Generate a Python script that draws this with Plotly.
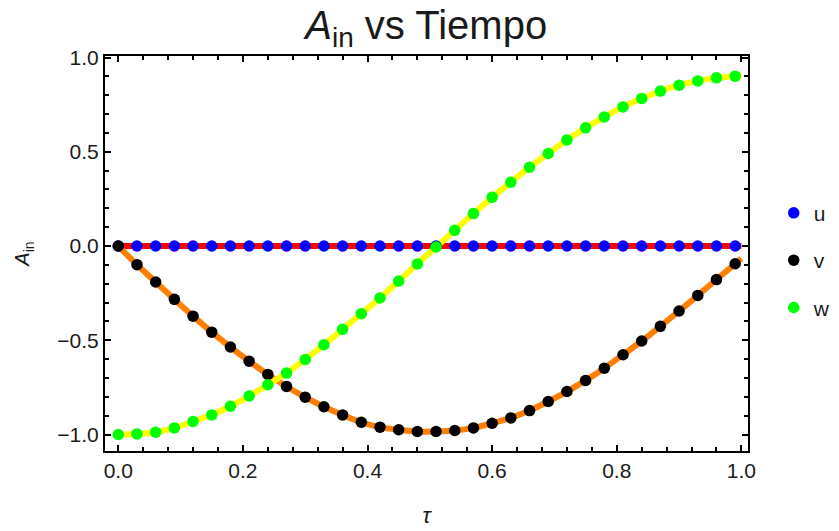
import plotly.graph_objects as go

tau = [0.00, 0.03, 0.06, 0.09, 0.12, 0.15, 0.18, 0.21, 0.24, 0.27, 0.30, 0.33,
       0.36, 0.39, 0.42, 0.45, 0.48, 0.51, 0.54, 0.57, 0.60, 0.63, 0.66, 0.69,
       0.72, 0.75, 0.78, 0.81, 0.84, 0.87, 0.90, 0.93, 0.96, 0.99]
u = [0.0] * 34
v = [0.000, -0.099, -0.191, -0.283, -0.372, -0.457, -0.536, -0.611, -0.681,
     -0.745, -0.802, -0.853, -0.896, -0.935, -0.961, -0.975, -0.984, -0.984,
     -0.979, -0.965, -0.940, -0.912, -0.873, -0.825, -0.772, -0.713, -0.648,
     -0.577, -0.504, -0.426, -0.345, -0.262, -0.178, -0.094]
w = [-1.000, -0.997, -0.988, -0.965, -0.931, -0.896, -0.850, -0.796, -0.736,
     -0.674, -0.602, -0.524, -0.442, -0.359, -0.276, -0.186, -0.095, -0.005,
     0.083, 0.172, 0.258, 0.338, 0.418, 0.491, 0.563, 0.627, 0.685, 0.738,
     0.783, 0.822, 0.853, 0.876, 0.892, 0.901]

# continuous curves (drawn to tau = 1)
line_tau = tau + [1.00]
line_u = u + [0.0]
line_v = v + [-0.066]
line_w = w + [0.902]

x_ticks = [0.0, 0.2, 0.4, 0.6, 0.8, 1.0]
y_ticks = [-1.0, -0.5, 0.0, 0.5, 1.0]

FONT = "Liberation Sans, Arial, sans-serif"
TXT = "#1a1a1a"

fig = go.Figure()
for yy, col in [(line_u, "#ff0000"), (line_v, "#ff8000"), (line_w, "#ffff00")]:
    fig.add_trace(go.Scatter(x=line_tau, y=yy, mode="lines", showlegend=False,
                             line=dict(color=col, width=6, shape="spline"),
                             hoverinfo="skip"))
for name, yy, col, grp in [("u", u, "#0000ff", "a"), ("v", v, "#000000", "b"),
                           ("w", w, "#00ff00", "c")]:
    fig.add_trace(go.Scatter(x=tau, y=yy, mode="markers", name=name, legendgroup=grp,
                             marker=dict(color=col, size=11.5, line=dict(width=0))))

axis_common = dict(showline=True, linecolor="black", linewidth=2, mirror="ticks",
                   ticks="inside", ticklen=6, tickwidth=2, tickcolor="black",
                   showgrid=False, zeroline=False,
                   tickfont=dict(family=FONT, size=21, color=TXT))

fig.update_xaxes(range=[-0.0213, 1.0106], tickvals=x_ticks,
                 ticktext=[f"{t:.1f}" for t in x_ticks],
                 minor=dict(dtick=0.04, ticks="inside", ticklen=4, tickwidth=2,
                            tickcolor="black", showgrid=False),
                 title=dict(text="<i>τ</i>", font=dict(family=FONT, size=22, color=TXT),
                            standoff=26),
                 **axis_common)
fig.update_yaxes(range=[-1.0875, 1.008], tickvals=y_ticks,
                 ticktext=["\u22121.0", "\u22120.5", "0.0", "0.5", "1.0"],
                 minor=dict(dtick=0.1, ticks="inside", ticklen=4, tickwidth=2,
                            tickcolor="black", showgrid=False),
                 title=dict(text="<i>A</i><sub>in</sub>",
                            font=dict(family=FONT, size=20, color=TXT), standoff=22),
                 **axis_common)

fig.update_layout(
    width=839, height=531,
    margin=dict(l=105, r=91, t=56, b=80, autoexpand=False),
    paper_bgcolor="white", plot_bgcolor="white",
    title=dict(text="<i>A</i><sub>in</sub> vs Tiempo", x=0.508, xanchor="center",
               y=0.953, yanchor="middle",
               font=dict(family=FONT, size=40, color=TXT)),
    legend=dict(x=1.04, y=0.483, xanchor="left", yanchor="middle",
                font=dict(family=FONT, size=21, color=TXT),
                tracegroupgap=17, itemwidth=30, bgcolor="rgba(0,0,0,0)"),
    showlegend=True,
)

fig.write_html("out.html")
